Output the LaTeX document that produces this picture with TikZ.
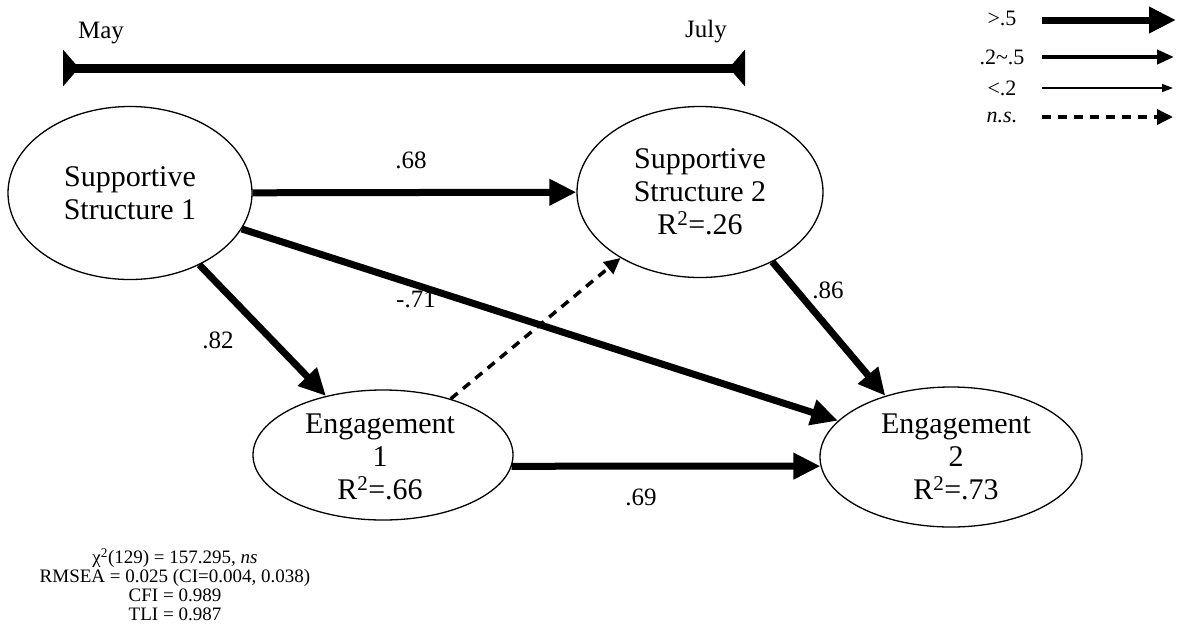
\documentclass[tikz,border=0pt]{standalone}
\usepackage{fontspec}
\setmainfont{Liberation Serif}
\usetikzlibrary{arrows.meta,shapes.geometric}
\begin{document}
\begin{tikzpicture}[x=1pt,y=-1pt,
  ell/.style={draw, ellipse, line width=1.3pt, inner sep=0pt},
  ntext/.style={align=center, font=\fontsize{30}{33}\selectfont, inner sep=0pt},
  coef/.style={font=\fontsize{25}{28}\selectfont, inner sep=0pt},
  legtext/.style={font=\fontsize{22}{26}\selectfont, inner sep=0pt},
  pbig/.style={line width=7pt, -{Triangle[length=27pt,width=25pt]}},
  pmid/.style={line width=4pt, -{Triangle[length=17pt,width=14pt]}},
  pthin/.style={line width=1.5pt, -{Triangle[length=11pt,width=8pt]}},
  pns/.style={line width=3.5pt, dash pattern=on 9pt off 7pt, -{Triangle[length=16pt,width=15pt]}},
  timebar/.style={line width=9pt, {Triangle[reversed,length=16pt,width=36pt]}-{Triangle[reversed,length=16pt,width=36pt]}}
]
\useasboundingbox (0,0) rectangle (1179,641);

% timeline
\coordinate (tl) at (63,68);
\coordinate (tr) at (745,68);
\draw[timebar] (tl) -- (tr);
\node[font=\fontsize{25}{28}\selectfont, inner sep=0pt] (may) at (101,33) {May};
\node[font=\fontsize{25}{28}\selectfont, inner sep=0pt] (july) at (706,32) {July};

% legend
\node[legtext] (l1) at (1002,18) {>.5};
\node[legtext] (l2) at (1002,57) {.2\textasciitilde.5};
\node[legtext] (l3) at (1002,88) {<.2};
\node[legtext] (l4) at (1002,117) {\textit{n.s.}};
\coordinate (a1s) at (1042,20); \coordinate (a1e) at (1176,20);
\coordinate (a2s) at (1042,57); \coordinate (a2e) at (1174,57);
\coordinate (a3s) at (1042,88); \coordinate (a3e) at (1173,88);
\coordinate (a4s) at (1042,117); \coordinate (a4e) at (1173,117);
\draw[pbig] (a1s) -- (a1e);
\draw[pmid] (a2s) -- (a2e);
\draw[pthin] (a3s) -- (a3e);
\draw[pns] (a4s) -- (a4e);

% latent variables
\node[ell, minimum width=244pt, minimum height=173pt] (S1) at (130,193) {};
\node[ell, minimum width=246pt, minimum height=171pt] (S2) at (700,192) {};
\node[ell, minimum width=260pt, minimum height=130pt] (E1) at (383,455) {};
\node[ell, minimum width=262pt, minimum height=140pt] (E2) at (951,457) {};

\node[ntext] (S1t) at (130,193) {Supportive\\Structure 1};
\node[ntext] (S2t) at (700,192) {Supportive\\Structure 2\\R\textsuperscript{2}=.26};
\node[ntext] (E1t) at (380,457) {Engagement\\1\\R\textsuperscript{2}=.66};
\node[ntext] (E2t) at (956,457) {Engagement\\2\\R\textsuperscript{2}=.73};

% paths
\draw[pbig] (S1) -- (S2);
\draw[pbig] (S1) -- (E2);
\draw[pbig] (S1) -- (E1);
\draw[pns] (E1) -- (S2);
\draw[pbig] (S2.-44) -- (E2.137);
\draw[pbig] (E1.-5) -- (E2.184);

% coefficients
\node[coef] (c68) at (411,160) {.68};
\node[coef] (c71) at (416,299) {-.71};
\node[coef] (c82) at (218,340) {.82};
\node[coef] (c86) at (828,290) {.86};
\node[coef] (c69) at (641,497) {.69};

% fit statistics
\node[align=center, font=\fontsize{19}{19}\selectfont, inner sep=0pt] (fit) at (175,585)
  {χ\textsuperscript{2}(129) = 157.295, \textit{ns}\\
   RMSEA = 0.025 (CI=0.004, 0.038)\\
   CFI = 0.989\\
   TLI = 0.987};
\end{tikzpicture}
\end{document}
